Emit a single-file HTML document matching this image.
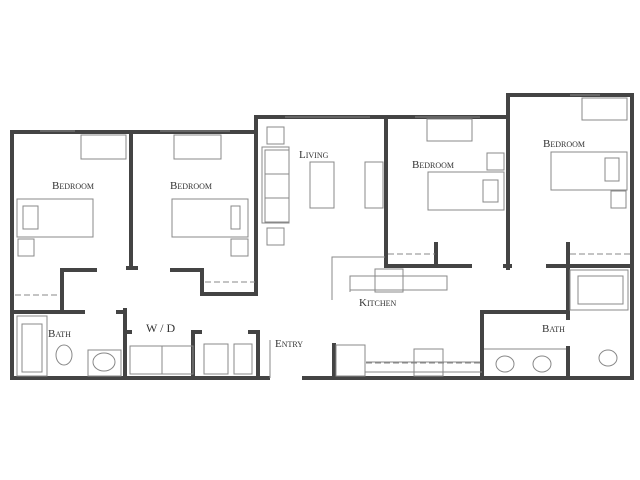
<!DOCTYPE html>
<html><head><style>
body{margin:0;background:#fff}
svg{display:block}
text{font-family:"Liberation Serif",serif;fill:#333;font-size:11px;font-variant:small-caps}
</style></head><body>
<svg width="640" height="480" viewBox="0 0 640 480">
<g stroke="#444" stroke-width="4" fill="none" stroke-linecap="square">
<path d="M12 132H256M12 132V378H268M131 132V268M256 117V294H202V270H172M62 270H95M62 270V310M12 312H83M125 310V378M118 312H125M125 332H130M193 332V378M193 332H200M250 332H258M258 332V378"/>
<path d="M256 117H508M508 95H632V378H304M508 95V268M386 117V266H470M436 244V266M505 266H510M548 266H632M568 244V318M482 312H568M482 312V378M568 348V378M334 345V378"/>
<path d="M128 268H136"/>
</g>
<g stroke="#888" stroke-width="1" fill="none">
<!-- windows -->
<path d="M40 131H75M160 131H230M285 117H370M415 117H480M570 95H600"/>
<!-- desks -->
<rect x="81" y="135" width="45" height="24"/><rect x="174" y="135" width="47" height="24"/>
<rect x="427" y="119" width="45" height="22"/><rect x="582" y="98" width="45" height="22"/>
<!-- beds -->
<rect x="17" y="199" width="76" height="38"/><rect x="23" y="206" width="15" height="23"/>
<rect x="172" y="199" width="76" height="38"/><rect x="231" y="206" width="9" height="23"/>
<rect x="428" y="172" width="76" height="38"/><rect x="483" y="180" width="15" height="22"/>
<rect x="551" y="152" width="76" height="38"/><rect x="605" y="158" width="14" height="23"/>
<rect x="18" y="239" width="16" height="17"/><rect x="231" y="239" width="17" height="17"/>
<rect x="487" y="153" width="17" height="17"/><rect x="611" y="191" width="15" height="17"/>
<!-- closets -->
<path d="M15 295H60" stroke-dasharray="6 3"/><path d="M205 282H255" stroke-dasharray="6 3"/>
<path d="M388 254H435" stroke-dasharray="6 3"/><path d="M570 254H630" stroke-dasharray="6 3"/>
<!-- living -->
<rect x="262" y="147" width="27" height="76"/><rect x="265" y="150" width="24" height="24"/><rect x="265" y="174" width="24" height="24"/><rect x="265" y="198" width="24" height="24"/>
<rect x="267" y="127" width="17" height="17"/><rect x="267" y="228" width="17" height="17"/>
<rect x="310" y="162" width="24" height="46"/><rect x="365" y="162" width="18" height="46"/>
<!-- kitchen -->
<path d="M332 300V257H385M350 292V276H447V290H350"/><rect x="375" y="269" width="28" height="23"/>
<path d="M365 345V372H482M366 362H480" /><path d="M366 363H480" stroke-dasharray="6 3"/>
<rect x="336" y="345" width="29" height="31"/><rect x="414" y="349" width="29" height="27"/>
<!-- baths -->
<rect x="17" y="316" width="30" height="60"/><rect x="22" y="324" width="20" height="48"/>
<ellipse cx="64" cy="355" rx="8" ry="10"/><rect x="88" y="350" width="33" height="26"/><ellipse cx="104" cy="362" rx="11" ry="9"/>
<rect x="570" y="270" width="58" height="40"/><rect x="578" y="276" width="45" height="28"/>
<ellipse cx="505" cy="364" rx="9" ry="8"/><ellipse cx="542" cy="364" rx="9" ry="8"/><ellipse cx="608" cy="358" rx="9" ry="8"/>
<path d="M484 349H566"/>
<!-- w/d -->
<rect x="130" y="346" width="32" height="28"/><rect x="162" y="346" width="31" height="28"/>
<rect x="204" y="344" width="24" height="30"/><rect x="234" y="344" width="18" height="30"/>
<path d="M270 340V378"/>
</g>
<text x="52" y="189">Bedroom</text>
<text x="170" y="189">Bedroom</text>
<text x="299" y="158">Living</text>
<text x="412" y="168">Bedroom</text>
<text x="543" y="147">Bedroom</text>
<text x="359" y="306">Kitchen</text>
<text x="48" y="337">Bath</text>
<text x="542" y="332">Bath</text>
<text x="146" y="332" style="font-variant:normal;font-size:12px">W / D</text>
<text x="275" y="347">Entry</text>
</svg>
</body></html>
